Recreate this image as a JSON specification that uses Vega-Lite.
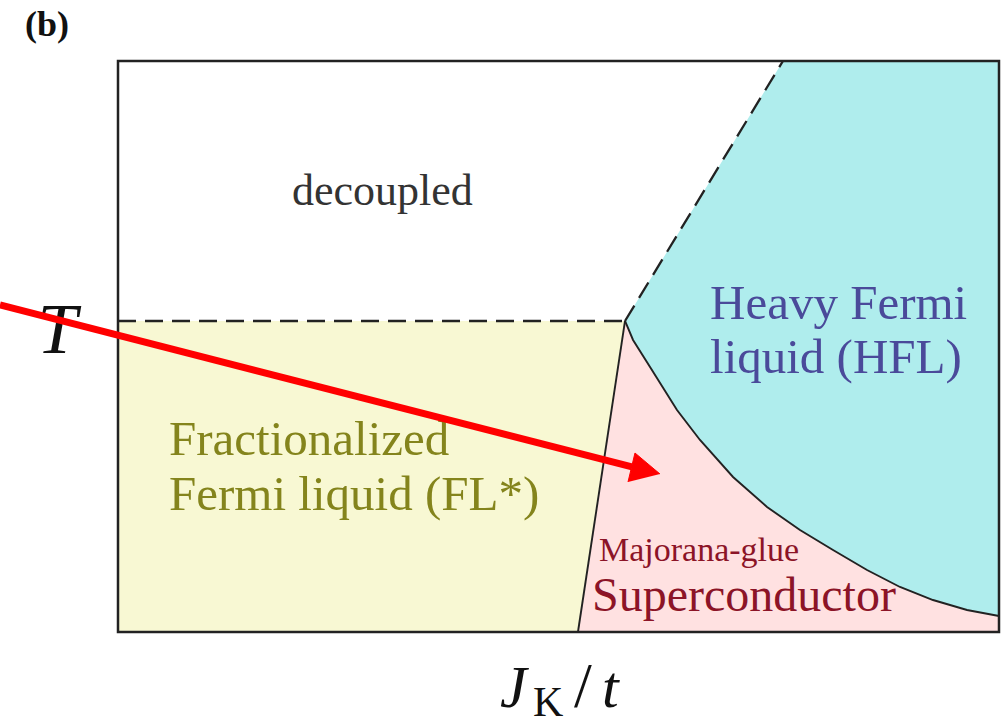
{
  "$schema": "https://vega.github.io/schema/vega-lite/v6.json",
  "width": 881,
  "height": 571,
  "autosize": {"type": "none"},
  "padding": {"left": 118, "top": 61, "right": 8, "bottom": 95},
  "background": "white",
  "config": {"view": {"stroke": null}},
  "datasets": {
    "yellow": [
      {"i": 0, "x": 0, "y": 0.5447},
      {"i": 1, "x": 0.5755, "y": 0.5447},
      {"i": 2, "x": 0.5221, "y": 0},
      {"i": 3, "x": 0, "y": 0}
    ],
    "pink": [
      {"i": 0, "x": 0.5755, "y": 0.5447},
      {"i": 1, "x": 0.5846, "y": 0.5114},
      {"i": 2, "x": 0.6039, "y": 0.4641},
      {"i": 3, "x": 0.6345, "y": 0.3888},
      {"i": 4, "x": 0.6606, "y": 0.3363},
      {"i": 5, "x": 0.6981, "y": 0.2715},
      {"i": 6, "x": 0.7367, "y": 0.2189},
      {"i": 7, "x": 0.7741, "y": 0.1786},
      {"i": 8, "x": 0.8116, "y": 0.1436},
      {"i": 9, "x": 0.8502, "y": 0.1086},
      {"i": 10, "x": 0.8876, "y": 0.0788},
      {"i": 11, "x": 0.9251, "y": 0.056},
      {"i": 12, "x": 0.9637, "y": 0.0385},
      {"i": 13, "x": 1.0, "y": 0.028},
      {"i": 14, "x": 1.0, "y": 0},
      {"i": 15, "x": 0.5221, "y": 0}
    ],
    "cyan": [
      {"i": 0, "x": 0.5755, "y": 0.5447},
      {"i": 1, "x": 0.7548, "y": 1},
      {"i": 2, "x": 1.0, "y": 1},
      {"i": 3, "x": 1.0, "y": 0.028},
      {"i": 4, "x": 0.9637, "y": 0.0385},
      {"i": 5, "x": 0.9251, "y": 0.056},
      {"i": 6, "x": 0.8876, "y": 0.0788},
      {"i": 7, "x": 0.8502, "y": 0.1086},
      {"i": 8, "x": 0.8116, "y": 0.1436},
      {"i": 9, "x": 0.7741, "y": 0.1786},
      {"i": 10, "x": 0.7367, "y": 0.2189},
      {"i": 11, "x": 0.6981, "y": 0.2715},
      {"i": 12, "x": 0.6606, "y": 0.3363},
      {"i": 13, "x": 0.6345, "y": 0.3888},
      {"i": 14, "x": 0.6039, "y": 0.4641},
      {"i": 15, "x": 0.5846, "y": 0.5114}
    ],
    "curve": [
      {"i": 0, "x": 0.5755, "y": 0.5447},
      {"i": 1, "x": 0.5846, "y": 0.5114},
      {"i": 2, "x": 0.6039, "y": 0.4641},
      {"i": 3, "x": 0.6345, "y": 0.3888},
      {"i": 4, "x": 0.6606, "y": 0.3363},
      {"i": 5, "x": 0.6981, "y": 0.2715},
      {"i": 6, "x": 0.7367, "y": 0.2189},
      {"i": 7, "x": 0.7741, "y": 0.1786},
      {"i": 8, "x": 0.8116, "y": 0.1436},
      {"i": 9, "x": 0.8502, "y": 0.1086},
      {"i": 10, "x": 0.8876, "y": 0.0788},
      {"i": 11, "x": 0.9251, "y": 0.056},
      {"i": 12, "x": 0.9637, "y": 0.0385},
      {"i": 13, "x": 1.0, "y": 0.028}
    ],
    "dashed": [
      {"seg": "h", "i": 0, "x": 0, "y": 0.5447},
      {"seg": "h", "i": 1, "x": 0.5755, "y": 0.5447},
      {"seg": "d", "i": 0, "x": 0.5755, "y": 0.5447},
      {"seg": "d", "i": 1, "x": 0.7548, "y": 1}
    ],
    "solid": [
      {"i": 0, "x": 0.5755, "y": 0.5447},
      {"i": 1, "x": 0.5221, "y": 0}
    ],
    "shaft": [
      {"i": 0, "x": -0.134, "y": 0.5727},
      {"i": 1, "x": 0.5834, "y": 0.289}
    ],
    "head": [
      {"i": 0, "x": 0.6152, "y": 0.2767},
      {"i": 1, "x": 0.5868, "y": 0.3135},
      {"i": 2, "x": 0.5789, "y": 0.2627}
    ]
  },
  "encoding": {
    "x": {"field": "x", "type": "quantitative", "scale": {"domain": [0, 1], "nice": false, "zero": false}, "axis": null},
    "y": {"field": "y", "type": "quantitative", "scale": {"domain": [0, 1], "nice": false, "zero": false}, "axis": null}
  },
  "layer": [
    {"data": {"name": "yellow"}, "mark": {"type": "line", "fill": "#f8f8d3", "stroke": null, "strokeWidth": 0}, "encoding": {"order": {"field": "i"}}},
    {"data": {"name": "pink"}, "mark": {"type": "line", "fill": "#ffe1e1", "stroke": null, "strokeWidth": 0}, "encoding": {"order": {"field": "i"}}},
    {"data": {"name": "cyan"}, "mark": {"type": "line", "fill": "#afeded", "stroke": null, "strokeWidth": 0}, "encoding": {"order": {"field": "i"}}},
    {"data": {"name": "curve"}, "mark": {"type": "line", "stroke": "#222222", "strokeWidth": 1.9}, "encoding": {"order": {"field": "i"}}},
    {"data": {"name": "solid"}, "mark": {"type": "line", "stroke": "#222222", "strokeWidth": 1.9}, "encoding": {"order": {"field": "i"}}},
    {"data": {"name": "dashed"}, "mark": {"type": "line", "stroke": "#222222", "strokeWidth": 2.3, "strokeDash": [18, 9]}, "encoding": {"order": {"field": "i"}, "detail": {"field": "seg"}}},
    {"data": {"values": [{"x": 0, "y": 0, "x2": 1, "y2": 1}]}, "mark": {"type": "rect", "fill": null, "fillOpacity": 0, "stroke": "#222222", "strokeWidth": 2.5}, "encoding": {"x2": {"field": "x2"}, "y2": {"field": "y2"}}},
    {"data": {"values": [{"label": "decoupled", "x": 0.1975, "y": 0.7478}]}, "mark": {"type": "text", "align": "left", "baseline": "alphabetic", "font": "Liberation Serif", "fontSize": 44, "color": "#333333"}, "encoding": {"text": {"field": "label"}}},
    {"data": {"values": [{"label": "Heavy Fermi", "x": 0.672, "y": 0.5482}, {"label": "liquid (HFL)", "x": 0.672, "y": 0.4536}]}, "mark": {"type": "text", "align": "left", "baseline": "alphabetic", "font": "Liberation Serif", "fontSize": 49, "color": "#4a4a9a"}, "encoding": {"text": {"field": "label"}}},
    {"data": {"values": [{"label": "Fractionalized", "x": 0.0579, "y": 0.31}, {"label": "Fermi liquid (FL*)", "x": 0.0579, "y": 0.2137}]}, "mark": {"type": "text", "align": "left", "baseline": "alphabetic", "font": "Liberation Serif", "fontSize": 49, "color": "#84841c"}, "encoding": {"text": {"field": "label"}}},
    {"data": {"values": [{"label": "Majorana-glue", "x": 0.546, "y": 0.1243}]}, "mark": {"type": "text", "align": "left", "baseline": "alphabetic", "font": "Liberation Serif", "fontSize": 34, "color": "#8c1427"}, "encoding": {"text": {"field": "label"}}},
    {"data": {"values": [{"label": "Superconductor", "x": 0.538, "y": 0.0368}]}, "mark": {"type": "text", "align": "left", "baseline": "alphabetic", "font": "Liberation Serif", "fontSize": 48, "color": "#8c1427"}, "encoding": {"text": {"field": "label"}}},
    {"data": {"values": [{"label": "T", "x": -0.0919, "y": 0.4886}]}, "mark": {"type": "text", "align": "left", "baseline": "alphabetic", "font": "Liberation Serif", "fontStyle": "italic", "fontSize": 72, "color": "#111111"}, "encoding": {"text": {"field": "label"}}},
    {"data": {"values": [{"label": "J", "x": 0.4336, "y": -0.1313}, {"label": "t", "x": 0.5494, "y": -0.1313}]}, "mark": {"type": "text", "align": "left", "baseline": "alphabetic", "font": "Liberation Serif", "fontStyle": "italic", "fontSize": 60, "color": "#111111"}, "encoding": {"text": {"field": "label"}}},
    {"data": {"values": [{"label": "/", "x": 0.5176, "y": -0.1313}]}, "mark": {"type": "text", "align": "left", "baseline": "alphabetic", "font": "Liberation Serif", "fontSize": 64, "color": "#111111"}, "encoding": {"text": {"field": "label"}}},
    {"data": {"values": [{"label": "K", "x": 0.4711, "y": -0.147}]}, "mark": {"type": "text", "align": "left", "baseline": "alphabetic", "font": "Liberation Serif", "fontSize": 42, "color": "#111111"}, "encoding": {"text": {"field": "label"}}},
    {"data": {"values": [{"label": "(b)", "x": -0.1056, "y": 1.0438}]}, "mark": {"type": "text", "align": "left", "baseline": "alphabetic", "font": "Liberation Serif", "fontWeight": "bold", "fontSize": 36, "color": "#111111"}, "encoding": {"text": {"field": "label"}}},
    {"data": {"name": "shaft"}, "mark": {"type": "line", "stroke": "#ff0000", "strokeWidth": 7, "strokeCap": "butt"}, "encoding": {"order": {"field": "i"}}},
    {"data": {"name": "head"}, "mark": {"type": "line", "fill": "#ff0000", "stroke": "#ff0000", "strokeWidth": 1}, "encoding": {"order": {"field": "i"}}}
  ]
}
